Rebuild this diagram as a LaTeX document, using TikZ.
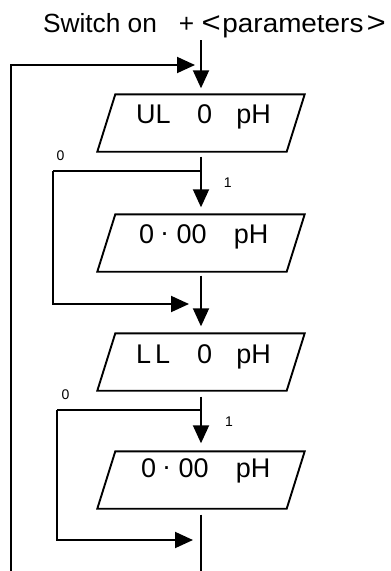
\documentclass[tikz,border=0pt]{standalone}
\usepackage{fontspec}
\setmainfont{Liberation Sans}
\usetikzlibrary{arrows.meta}
\newcommand\lcdsize{\fontsize{27}{30}\selectfont}
\begin{document}
\begin{tikzpicture}[x=1pt,y=-1pt,
  line/.style={line width=1.9pt},
  arr/.style={line width=1.9pt,-{Triangle[length=18pt,width=16pt]}},
  dispbox/.style={draw=none,rectangle,inner sep=0pt,minimum width=189pt,minimum height=57pt},
  disptxt/.style={anchor=base west,inner sep=0pt,font=\lcdsize},
  lbl/.style={anchor=base west,inner sep=0pt,font=\fontsize{14}{16}\selectfont}]
\useasboundingbox (0,0) rectangle (391,571);
% title
\node[anchor=base west,inner sep=0pt,font=\fontsize{26.3}{30}\selectfont] (title) at (42.8,32)
  {Switch on\hspace{14.6pt} + \scalebox{1.25}[1.1]{<}\hspace{1.7pt}\scalebox{1.06}[1]{parameters}\hspace{3.1pt}\scalebox{1.25}[1.1]{>}};
% display boxes
\node[dispbox] (b1) at (201,123) {};
\node[dispbox] (b2) at (201,243) {};
\node[dispbox] (b3) at (201,362) {};
\node[dispbox] (b4) at (201,480) {};
\foreach \b in {b1,b2,b3,b4}
  \draw[line,line join=miter] ([xshift=9pt]\b.north west) -- ([xshift=9pt]\b.north east)
    -- ([xshift=-9pt]\b.south east) -- ([xshift=-9pt]\b.south west) -- cycle;
% display texts
\node[disptxt] (t1) at (136,123) {UL\hspace{18.9pt} 0\hspace{16.8pt} pH};
\node[disptxt] (t2) at (138.9,243) {0\hspace{6.8pt}\raisebox{8pt}{.}\hspace{8.2pt}00\hspace{19.8pt} pH};
\node[disptxt] (t3) at (136,363) {L\hspace{4pt}L\hspace{19.4pt} 0\hspace{16.8pt} pH};
\node[disptxt] (t4) at (140.9,477) {0\hspace{6.8pt}\raisebox{8pt}{.}\hspace{8.2pt}00\hspace{19.8pt} pH};
% coordinates
\coordinate (in0) at (201,40);
\coordinate (lp0) at (11,571);
\coordinate (m0) at (201,65);
\coordinate (j1) at (201,171);
\coordinate (k1) at (53,171);
\coordinate (m1) at (201,304);
\coordinate (j2) at (201,410);
\coordinate (k2) at (57,410);
\coordinate (m2) at (201,540);
\coordinate (out4) at (201,571);
% main flow
\draw[arr,shorten >=6pt] (in0) -- (b1);
\draw[arr,shorten <=5pt,shorten >=7pt] (b1) -- (b2);
\draw[arr,shorten <=4pt,shorten >=7pt] (b2) -- (b3);
\draw[arr,shorten <=6pt,shorten >=8pt] (b3) -- (b4);
\draw[line,shorten <=6pt] (b4) -- (out4);
% outer loop
\draw[arr,shorten >=6pt] (lp0) |- (m0);
% loop 1
\draw[line] (j1) -- (k1);
\draw[arr,shorten >=12pt] (k1) |- (m1);
% loop 2
\draw[line] (j2) -- (k2);
\draw[arr,shorten >=8pt] (k2) |- (m2);
% labels
\node[lbl] (z1) at (56.5,160) {0};
\node[lbl] (o1) at (223.6,187) {1};
\node[lbl] (z2) at (61.5,399) {0};
\node[lbl] (o2) at (225,426) {1};
\end{tikzpicture}
\end{document}
